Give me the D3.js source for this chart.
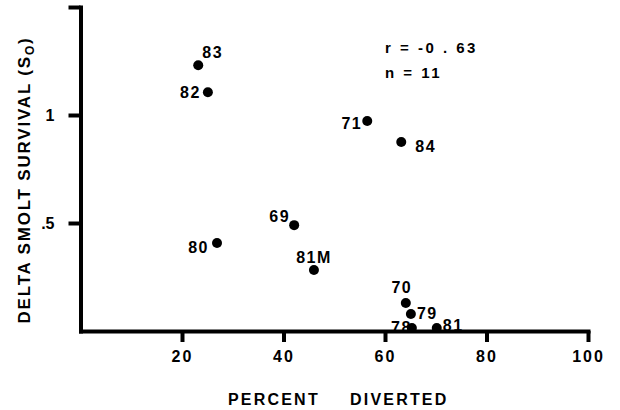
<!DOCTYPE html>
<html>
<head>
<meta charset="utf-8">
<script src="https://cdn.jsdelivr.net/npm/d3@7.9.0/dist/d3.min.js"></script>
<style>
  body { margin: 0; background: #fff; }
  svg { display: block; font-family: "Liberation Sans", Arial, sans-serif; font-weight: bold; }
</style>
</head>
<body>
<svg width="620" height="410"></svg>
<script>
// data
const years = ['83', '82', '71', '84', '69', '80', '81M', '70', '79', '78', '81'];
const diverted = [23.2, 25.1, 56.5, 63.2, 42.1, 26.9, 46.0, 64.1, 65.1, 65.3, 70.2];
const survival = [1.23, 1.105, 0.972, 0.875, 0.49, 0.407, 0.282, 0.13, 0.079, 0.014, 0.014];
const xTicks = [20, 40, 60, 80, 100];
const yTicks = [0.5, 1, 1.5];
const yTickLabels = ['.5', '1', ''];

// label placement per point: [dx, dy, anchor]
const labelPos = {
  '83': [4, -7, 'start'],
  '82': [-7, 6, 'end'],
  '71': [-5, 8, 'end'],
  '84': [14, 10, 'start'],
  '69': [-4, -3, 'end'],
  '80': [-8, 10, 'end'],
  '81M': [0, -7, 'middle'],
  '70': [-4, -10, 'middle'],
  '79': [6, 5, 'start'],
  '78': [0, 5, 'end'],
  '81': [6, 3, 'start']
};

const svg = d3.select('svg');
const x = d3.scaleLinear().domain([0, 100]).range([80.5, 588]);
const y = d3.scaleLinear().domain([0, 1.5]).range([331, 7]);

const xAxis = svg.append('g')
  .attr('transform', `translate(0,${y(0)})`)
  .call(d3.axisBottom(x).tickValues(xTicks).tickSize(11).tickSizeOuter(0).tickPadding(9));

const yAxis = svg.append('g')
  .attr('transform', `translate(${x(0)},0)`)
  .call(d3.axisLeft(y).tickValues(yTicks).tickSize(12).tickSizeOuter(0).tickPadding(14)
    .tickFormat((d, i) => yTickLabels[i]));

[xAxis, yAxis].forEach(g => {
  g.select('.domain').attr('stroke', '#000').attr('stroke-width', 4).attr('stroke-linecap', 'square');
  g.selectAll('.tick line').attr('stroke', '#000').attr('stroke-width', 4);
  g.selectAll('.tick text').attr('fill', '#000')
    .style('font-size', '16px').style('font-weight', 'bold')
    .style('font-family', '"Liberation Sans", Arial, sans-serif');
});
xAxis.selectAll('.tick text').attr('letter-spacing', '2px');

// points
svg.append('g').selectAll('circle')
  .data(years)
  .join('circle')
  .attr('cx', (d, i) => x(diverted[i]))
  .attr('cy', (d, i) => y(survival[i]))
  .attr('r', 5)
  .attr('fill', '#000');

// point labels
svg.append('g').selectAll('text')
  .data(years)
  .join('text')
  .attr('x', (d, i) => x(diverted[i]) + labelPos[d][0])
  .attr('y', (d, i) => y(survival[i]) + labelPos[d][1])
  .attr('text-anchor', d => labelPos[d][2])
  .attr('font-size', 16)
  .attr('letter-spacing', '1.5px')
  .text(d => d);

// stats note
svg.append('text').attr('x', 385).attr('y', 53).attr('font-size', 15)
  .attr('letter-spacing', '2.5px').attr('xml:space', 'preserve').text('r = -0 . 63');
svg.append('text').attr('x', 385).attr('y', 78).attr('font-size', 15)
  .attr('letter-spacing', '2.5px').attr('xml:space', 'preserve').text('n = 11');

// axis titles
svg.append('text').attr('x', 228).attr('y', 405)
  .attr('font-size', 16).attr('letter-spacing', '2.2px').text('PERCENT');
svg.append('text').attr('x', 350).attr('y', 405)
  .attr('font-size', 16).attr('letter-spacing', '2.2px').text('DIVERTED');

const yt = svg.append('text')
  .attr('transform', 'translate(30,180) rotate(-90)')
  .attr('text-anchor', 'middle')
  .attr('font-size', 17)
  .attr('letter-spacing', '1.8px')
  .attr('xml:space', 'preserve');
yt.append('tspan').text('DELTA SMOLT SURVIVAL (S');
yt.append('tspan').attr('font-size', 12).attr('dy', 4).text('O');
yt.append('tspan').attr('dy', -4).text(')');
</script>
</body>
</html>
